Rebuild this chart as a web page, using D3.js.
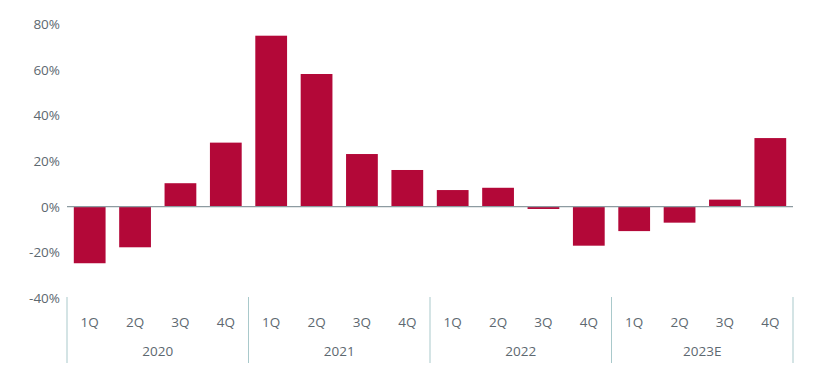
<!DOCTYPE html>
<html>
<head>
  <meta charset="UTF-8">
  <style>
    body { margin: 0; background: #fff; }
    text { font-family: "Open Sans", sans-serif; fill: #5d6870; }
  </style>
</head>
<body>
<svg></svg>
<script src="https://d3js.org/d3.v7.min.js"></script>
<script>

let width = 820, height = 381;

// data
const years = ["2020", "2021", "2022", "2023E"];
const quarters = ["1Q", "2Q", "3Q", "4Q"];
const values = [-24.8, -17.8, 10.3, 28.1,
                75.0, 58.2, 23.1, 16.1,
                7.3, 8.3, -1.0, -17.1,
                -10.7, -7.0, 3.1, 30.1];
const yTicks = [-40, -20, 0, 20, 40, 60, 80];

let svg = d3.select("svg")
    .attr("width", width)
    .attr("height", height);

let x = d3.scaleBand()
    .domain(d3.range(values.length))
    .range([67, 793])
    .paddingInner(0.3)
    .paddingOuter(0.15);

let y = d3.scaleLinear()
    .domain([-40, 80])
    .range([297.9, 24.3]);

// y axis labels
let yAxis = svg.append("g")
    .attr("transform", "translate(60,0)")
    .call(d3.axisLeft(y).tickValues(yTicks).tickSize(0).tickPadding(0).tickFormat(d => d + "%"));
yAxis.select(".domain").remove();
yAxis.selectAll("text")
    .style("font-family", "'Open Sans', sans-serif")
    .style("font-size", "13.5px")
    .attr("fill", "#5d6870");

// bars
svg.append("g")
    .selectAll("rect")
    .data(values)
    .enter()
    .append("rect")
    .attr("x", (d, i) => x(i))
    .attr("width", x.bandwidth())
    .attr("y", d => y(Math.max(0, d)))
    .attr("height", d => Math.abs(y(d) - y(0)))
    .attr("fill", "#b30838");

// zero line
svg.append("line")
    .attr("x1", x.range()[0])
    .attr("x2", x.range()[1])
    .attr("y1", y(0))
    .attr("y2", y(0))
    .attr("stroke", "#8d9ba1")
    .attr("stroke-width", 1.3);

// group separators
let step = x.step();
let groupEdges = d3.range(years.length + 1).map(k => x.range()[0] + k * 4 * step);
svg.append("g")
    .selectAll("line")
    .data(groupEdges)
    .enter()
    .append("line")
    .attr("x1", d => d)
    .attr("x2", d => d)
    .attr("y1", 297)
    .attr("y2", 363)
    .attr("stroke", "#a9c9cb")
    .attr("stroke-width", 1);

// quarter labels
svg.append("g")
    .selectAll("text")
    .data(values)
    .enter()
    .append("text")
    .attr("x", (d, i) => x(i) + x.bandwidth() / 2)
    .attr("y", 327)
    .attr("text-anchor", "middle")
    .style("font-size", "13.5px")
    .text((d, i) => quarters[i % 4]);

// year labels
svg.append("g")
    .selectAll("text")
    .data(years)
    .enter()
    .append("text")
    .attr("x", (d, k) => (groupEdges[k] + groupEdges[k + 1]) / 2)
    .attr("y", 356)
    .attr("text-anchor", "middle")
    .style("font-size", "13.5px")
    .text(d => d);

</script>
</body>
</html>
